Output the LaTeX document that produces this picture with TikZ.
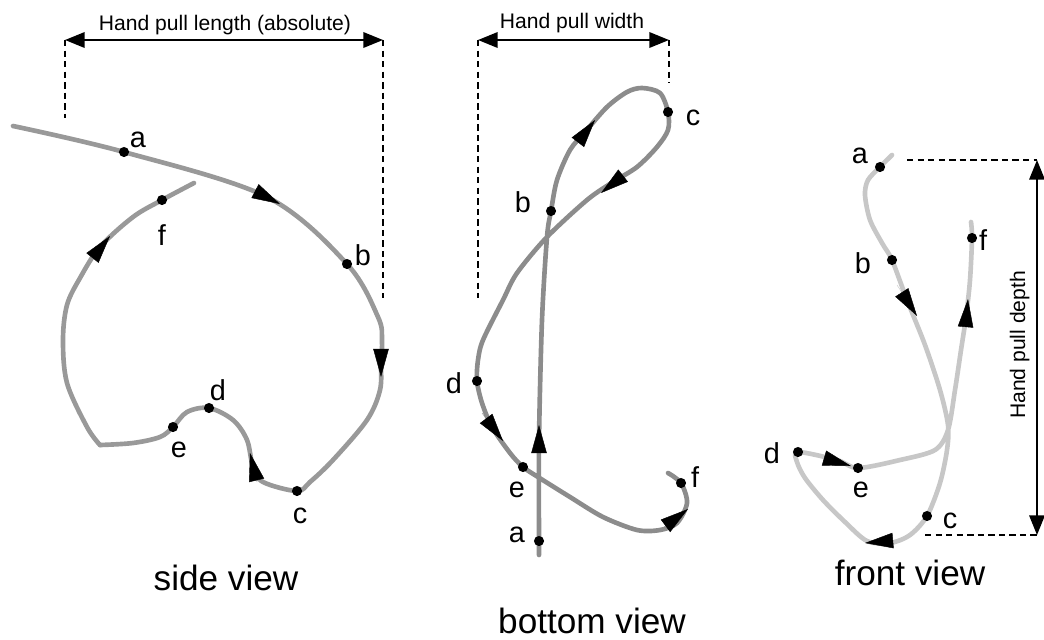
\documentclass[tikz,border=0pt]{standalone}
\usepackage{fontspec}
\setmainfont{Liberation Sans}
\usetikzlibrary{
  arrows.meta % Triangle tips
}

\definecolor{sideGray}{gray}{0.60}
\definecolor{bottomGray}{gray}{0.55}
\definecolor{frontGray}{gray}{0.78}

\tikzset{
  path curve/.style={
    line width=3.3pt,
    line cap=round,
    line join=round
  },
  flow tip/.style={
    draw=#1,
    line width=0.3pt,
    -{Triangle[length=20pt, width=11pt, color=black]}
  },
  dim arrow/.style={
    {Triangle[length=14pt, width=11pt]}-{Triangle[length=14pt, width=11pt]},
    line width=1.4pt
  },
  dim line/.style={
    line width=1pt,
    dash pattern=on 4.5pt off 3pt
  },
  dot/.style={
    circle,
    fill=black,
    inner sep=0pt,
    minimum size=7.2pt
  },
  pt label/.style={
    anchor=base,
    inner sep=0pt,
    font=\fontsize{20.5}{24}\selectfont
  },
  view label/.style={
    anchor=base,
    inner sep=0pt,
    font=\fontsize{25}{30}\selectfont
  },
  dim label/.style={
    anchor=base,
    inner sep=0pt,
    font=\fontsize{15}{18}\selectfont
  }
}

\begin{document}
\begin{tikzpicture}[x=0.025cm, y=-0.025cm, line join=round]
  \useasboundingbox (0,0) rectangle (1044,639);

  % ===================================
  % side view
  % ===================================
  \coordinate (SA) at (124,152);
  \coordinate (SB) at (347,264);
  \coordinate (SC) at (297,491);
  \coordinate (SD) at (209,408);
  \coordinate (SE) at (173,427);
  \coordinate (SF) at (162,200);
  \coordinate (SK) at (100,445); % corner below e

  % a -> b -> c -> d -> e, then the corner
  \draw[path curve, sideGray] plot[smooth, tension=0.55] coordinates {
    (13,126) (SA) (267,197) (SB) (378,317) (382,340) (381,363) (380,390)
    (367,420) (333,460) (310,482) (SC) (263,482) (253,467) (247,440)
    (233,420) (SD) (187,412) (SE) (160,437) (133,443) (SK)};
  % corner -> f
  \draw[path curve, sideGray] plot[smooth, tension=0.55] coordinates {
    (SK) (87,427) (67,383) (63,340) (67,305) (80,278) (100,247)
    (133,217) (SF) (194,183)};

  \draw[flow tip=sideGray] (253,190) -- (280,204);
  \draw[flow tip=sideGray] (381,348) -- (381,377);
  \draw[flow tip=sideGray] (257,482) -- (250,453);
  \draw[flow tip=sideGray] (90,261) -- (110,236);

  \foreach \p in {SA, SB, SC, SD, SE, SF} {
    \node[dot] (dot\p) at (\p) {};
  }
  \node[pt label] (labSA) at (138,147) {a};
  \node[pt label] (labSB) at (363,265) {b};
  \node[pt label] (labSC) at (300,523) {c};
  \node[pt label] (labSD) at (218,400) {d};
  \node[pt label] (labSE) at (179,457) {e};
  \node[pt label] (labSF) at (162,245) {f};
  \node[view label] (sideView) at (226,590) {side view};

  % hand pull length
  \coordinate (lenL) at (65,40);
  \coordinate (lenR) at (383,40);
  \draw[dim line] (lenL) -- (65,118);
  \draw[dim line] (lenR) -- (383,298);
  \draw[dim arrow] (lenL) -- (lenR);
  \node[dim label] (lenText) at (225,30) {Hand pull length (absolute)};

  % ===================================
  % bottom view
  % ===================================
  \coordinate (BA) at (539,541);
  \coordinate (BB) at (551,211);
  \coordinate (BC) at (668,112);
  \coordinate (BD) at (477,381);
  \coordinate (BE) at (523,467);
  \coordinate (BF) at (681,483);

  \draw[path curve, bottomGray] plot[smooth, tension=0.5] coordinates {
    (539,555) (BA) (539,440) (542,320) (547,237) (BB) (557,180) (570,150)
    (585,132) (607,107) (627,92) (642,88) (660,93) (BC) (668,130)
    (657,147) (637,167) (613,182) (587,200) (547,237) (517,273)
    (503,300) (483,340) (478,360) (BD) (482,403) (492,427) (510,453)
    (BE) (538,477) (570,497) (603,517) (637,530) (660,530) (677,523)
    (687,503) (BF) (668,473)};

  \draw[flow tip=bottomGray] (539,456) -- (539,425);
  \draw[flow tip=bottomGray] (575,146) -- (595,120);
  \draw[flow tip=bottomGray] (629,171) -- (601,193);
  \draw[flow tip=bottomGray] (482,413) -- (503,441);
  \draw[flow tip=bottomGray] (660,530) -- (688,509);

  \foreach \p in {BA, BB, BC, BD, BE, BF} {
    \node[dot] (dot\p) at (\p) {};
  }
  \node[pt label] (labBA) at (517,542) {a};
  \node[pt label] (labBB) at (523,212) {b};
  \node[pt label] (labBC) at (693,125) {c};
  \node[pt label] (labBD) at (454,393) {d};
  \node[pt label] (labBE) at (517,497) {e};
  \node[pt label] (labBF) at (695,487) {f};
  \node[view label] (bottomView) at (592,633) {bottom view};

  % hand pull width
  \coordinate (widL) at (478,40);
  \coordinate (widR) at (669,40);
  \draw[dim line] (widL) -- (478,298);
  \draw[dim line] (widR) -- (669,83);
  \draw[dim arrow] (widL) -- (widR);
  \node[dim label] (widText) at (572,28) {Hand pull width};

  % ===================================
  % front view
  % ===================================
  \coordinate (FA) at (880,167);
  \coordinate (FB) at (892,260);
  \coordinate (FC) at (927,516);
  \coordinate (FD) at (798,452);
  \coordinate (FE) at (858,468);
  \coordinate (FF) at (972,238);

  \draw[path curve, frontGray] plot[smooth, tension=0.5] coordinates {
    (892,155) (FA) (868,180) (865,195) (870,220) (882,243) (FB) (907,300)
    (925,345) (940,390) (948,425) (947,450) (940,483) (FC) (910,535)
    (890,543) (867,541) (845,522) (823,500) (805,478) (797,462) (FD)
    (837,460) (FE) (900,460) (935,450) (948,430) (955,390) (961,350)
    (966,317) (970,280) (FF) (971,222)};

  \draw[flow tip=frontGray] (897,285) -- (917,316);
  \draw[flow tip=frontGray] (965,333) -- (968,299);
  \draw[flow tip=frontGray] (817,456) -- (851,466);
  \draw[flow tip=frontGray] (899,540) -- (865,543);

  \foreach \p in {FA, FB, FC, FD, FE, FF} {
    \node[dot] (dot\p) at (\p) {};
  }
  \node[pt label] (labFA) at (860,163) {a};
  \node[pt label] (labFB) at (863,273) {b};
  \node[pt label] (labFC) at (950,528) {c};
  \node[pt label] (labFD) at (772,463) {d};
  \node[pt label] (labFE) at (861,497) {e};
  \node[pt label] (labFF) at (983,250) {f};
  \node[view label] (frontView) at (910,585) {front view};

  % hand pull depth
  \coordinate (depT) at (1037,160);
  \coordinate (depB) at (1037,535);
  \draw[dim line] (907,160) -- (depT);
  \draw[dim line] (925,535) -- (depB);
  \draw[dim arrow] (depT) -- (depB);
  \node[dim label, rotate=90] (depText) at (1025,345) {Hand pull depth};

\end{tikzpicture}
\end{document}
